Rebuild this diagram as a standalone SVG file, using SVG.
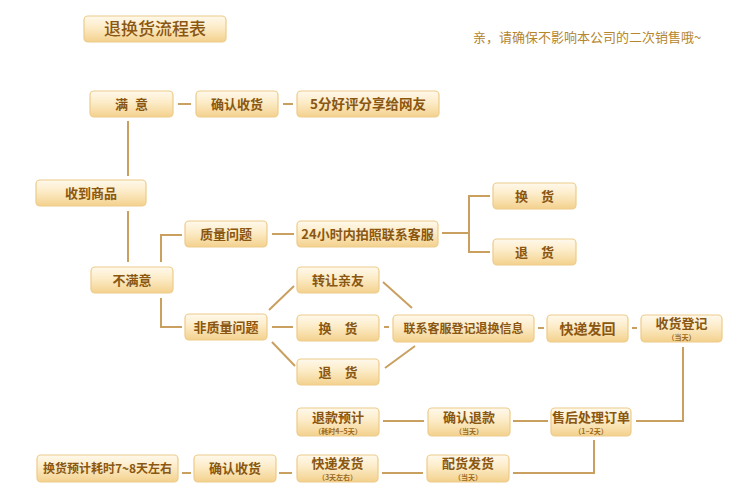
<svg xmlns="http://www.w3.org/2000/svg" width="750" height="500" viewBox="0 0 750 500">
<defs>
<linearGradient id="g" x1="0" y1="0" x2="0" y2="1">
<stop offset="0" stop-color="#fff9ec"/>
<stop offset="0.45" stop-color="#fcebc6"/>
<stop offset="1" stop-color="#f3d18d"/>
</linearGradient>
<style>
.b{fill:url(#g);stroke:#edcb8a;stroke-width:1.2}
.t{font-family:"Noto Sans CJK SC","Noto Sans",sans-serif;font-weight:bold;font-size:13px;fill:#8a5712;text-anchor:middle}
.s{font-family:"Noto Sans CJK SC","Noto Sans",sans-serif;font-weight:bold;font-size:7px;fill:#9a6a22;text-anchor:middle}
.c{fill:none;stroke:#c9a060;stroke-width:2}
</style>
</defs>
<rect width="750" height="500" fill="#ffffff"/>
<g id="title">
<rect class="b" x="84" y="16" width="142" height="26" rx="4"/>
<text x="155" y="35" style="font-family:'Noto Sans CJK SC',sans-serif;font-size:17px;fill:#8a5712;text-anchor:middle;font-weight:500">退换货流程表</text>
</g>
<g id="note">
<text x="473" y="42" style="font-family:'Noto Sans CJK SC',sans-serif;font-size:13px;fill:#b5862c">亲，请确保不影响本公司的二次销售哦~</text>
</g>
<g id="connectors">
<path class="c" d="M178 104H191M283 104H293M128 121V176M128 211V262M161 262V235H182M161 298V327H182M272 234H294M442 233H469M490 196H469V252H490M269 310L294 286M272 327H293M272 342L295 366M383 282L412 308M384 327H389M385 368L415 346M538 328H544M632 328H637M683 347V421H636M548 421H513M424 421H383M594 440V473H513M423 473H382M292 473H279M191 473H182"/>
</g>
<g id="n-manyi"><rect class="b" x="90" y="91" width="83" height="26" rx="4"/><text class="t" x="131.5" y="108.5" style="word-spacing:4px">满 意</text></g>
<g id="n-queren1"><rect class="b" x="196" y="91" width="82" height="26" rx="4"/><text class="t" x="237" y="108.5">确认收货</text></g>
<g id="n-haoping"><rect class="b" x="297" y="91" width="142" height="26" rx="4"/><text class="t" x="368" y="108.5" style="font-size:13.5px">5分好评分享给网友</text></g>
<g id="n-shoudao"><rect class="b" x="36" y="180" width="110" height="26" rx="4"/><text class="t" x="91" y="197.5">收到商品</text></g>
<g id="n-bumanyi"><rect class="b" x="91" y="267" width="82" height="26" rx="4"/><text class="t" x="132" y="284.5">不满意</text></g>
<g id="n-zhiliang"><rect class="b" x="185" y="221" width="82" height="26" rx="4"/><text class="t" x="226" y="238.5">质量问题</text></g>
<g id="n-24h"><rect class="b" x="297" y="221" width="141" height="26" rx="4"/><text class="t" x="367.5" y="238.5">24小时内拍照联系客服</text></g>
<g id="n-huanhuo1"><rect class="b" x="493" y="183" width="83" height="26" rx="4"/><text class="t" x="534.5" y="200.5">换　货</text></g>
<g id="n-tuihuo1"><rect class="b" x="493" y="239" width="83" height="26" rx="4"/><text class="t" x="534.5" y="256.5">退　货</text></g>
<g id="n-feizhiliang"><rect class="b" x="185" y="314" width="82" height="26" rx="4"/><text class="t" x="226" y="331.5">非质量问题</text></g>
<g id="n-zhuanrang"><rect class="b" x="297" y="267" width="82" height="26" rx="4"/><text class="t" x="338" y="284.5">转让亲友</text></g>
<g id="n-huanhuo2"><rect class="b" x="297" y="315" width="82" height="26" rx="4"/><text class="t" x="338" y="332.5">换　货</text></g>
<g id="n-tuihuo2"><rect class="b" x="297" y="359" width="82" height="26" rx="4"/><text class="t" x="338" y="376.5">退　货</text></g>
<g id="n-lianxi"><rect class="b" x="393" y="315" width="141" height="27" rx="4"/><text class="t" x="463.5" y="333" style="font-size:12px">联系客服登记退换信息</text></g>
<g id="n-kuaidifahui"><rect class="b" x="547" y="315" width="81" height="27" rx="4"/><text class="t" x="587.5" y="333.5" style="font-size:14px">快递发回</text></g>
<g id="n-shouhuo"><rect class="b" x="641" y="315" width="81" height="27" rx="4"/><text class="t" x="681.5" y="328">收货登记</text><text class="s" x="681.5" y="340">（当天）</text></g>
<g id="n-tuikuan"><rect class="b" x="297" y="408" width="82" height="28" rx="4"/><text class="t" x="338" y="421.5">退款预计</text><text class="s" x="338" y="433.5">（耗时4~5天）</text></g>
<g id="n-querentuikuan"><rect class="b" x="428" y="408" width="82" height="28" rx="4"/><text class="t" x="469" y="421.5">确认退款</text><text class="s" x="469" y="433.5">（当天）</text></g>
<g id="n-shouhou"><rect class="b" x="551" y="408" width="80" height="28" rx="4"/><text class="t" x="591" y="421.5">售后处理订单</text><text class="s" x="591" y="433.5">（1~2天）</text></g>
<g id="n-huanhuoyuji"><rect class="b" x="37" y="455" width="141" height="27" rx="4"/><text class="t" x="107.5" y="473" style="font-size:12px">换货预计耗时7~8天左右</text></g>
<g id="n-queren2"><rect class="b" x="194" y="455" width="82" height="27" rx="4"/><text class="t" x="235" y="473">确认收货</text></g>
<g id="n-kuaidifahuo"><rect class="b" x="297" y="455" width="81" height="27" rx="4"/><text class="t" x="337.5" y="468">快递发货</text><text class="s" x="337.5" y="480">（3天左右）</text></g>
<g id="n-peihuo"><rect class="b" x="427" y="455" width="82" height="27" rx="4"/><text class="t" x="468" y="468">配货发货</text><text class="s" x="468" y="480">（当天）</text></g>
</svg>
